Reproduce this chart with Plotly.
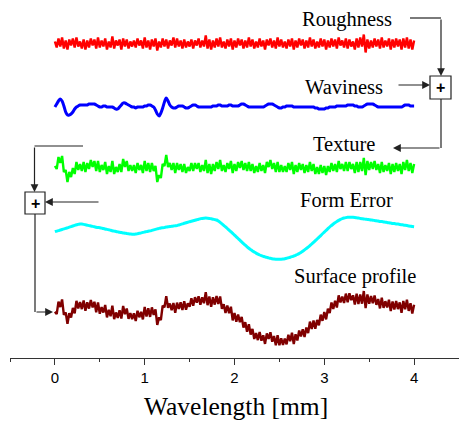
import numpy as np
import plotly.graph_objects as go

# ---------------- data (arbitrary height units) ----------------
wavelength_mm = [round(i * 0.02, 2) for i in range(201)]   # 0 .. 4 mm

roughness = [
    2, -4, 5, -3, 6, -5, 3, -6, 4, -2,
    5, -4, 6, -3, 2, -5, 4, -6, 3, -4,
    5, -2, 4, -5, 6, -4, 3, -3, 5, -6,
    2, -4, 7, -5, 3, -2, 4, -6, 5, -3,
    4, -5, 2, -3, 3, -4, 5, -2, 3, -5,
    6, -4, 3, -6, 4, -3, 5, -7, 2, -4,
    5, -3, 4, -5, 3, -2, 6, -4, 5, -3,
    3, -5, 4, -4, 2, -3, 4, -5, 3, -2,
    5, -4, 3, -3, 8, -5, 4, -6, 3, -4,
    5, -3, 6, -4, 2, -5, 4, -3, 5, -6,
    3, -4, 5, -2, 4, -5, 3, -4, 6, -3,
    4, -5, 2, -4, 5, -3, 3, -6, 4, -2,
    5, -4, 3, -5, 6, -3, 4, -4, 2, -5,
    4, -3, 5, -6, 3, -4, 5, -2, 4, -5,
    3, -4, 6, -3, 4, -5, 2, -4, 5, -3,
    4, -6, 3, -4, 5, -3, 4, -5, 6, -2,
    3, -4, 5, -5, 4, -3, 2, -6, 5, -4,
    6, -3, 9, -9, 4, -5, 3, -4, 5, -3,
    4, -5, 6, -4, 3, -3, 5, -6, 4, -4,
    5, -3, 4, -6, 5, -4, 6, -5, 4, -6,
    3,
]

waviness = [
    0, 3, 6, 8, 6, 1, -5, -8, -8, -7,
    -5, -2, 0, 1, 2, 2, 2, 2, 2, 3,
    3, 3, 3, 2, 1, 0, 0, 1, 1, 0,
    0, 0, 0, -1, -2, -2, 0, 2, 4, 4,
    3, 2, 1, 0, 0, -1, 0, 0, 0, 0,
    1, 1, 2, 2, 1, 0, -3, -7, -9, -6,
    -1, 5, 9, 6, 2, 0, -1, -1, 0, 1,
    1, 1, 0, -1, -1, 0, 1, 2, 2, 1,
    0, 0, 0, 0, 0, 0, 0, 0, 1, 1,
    1, 2, 2, 1, 1, 1, 1, 2, 2, 1,
    1, 1, 1, 2, 3, 3, 2, 1, 0, 0,
    0, 0, 0, 0, 0, 0, 0, 1, 2, 3,
    3, 3, 2, 1, 0, -1, -1, 0, 0, 1,
    1, 1, 1, 0, 0, 0, 0, 0, 0, 0,
    0, 0, 0, 0, 0, -1, -1, -2, -2, -2,
    -2, -1, -1, 0, 0, 0, 0, 1, 1, 1,
    1, 1, 1, 2, 2, 2, 2, 1, 1, 0,
    0, 0, 1, 2, 3, 3, 3, 3, 2, 1,
    0, 0, 0, 0, 0, 0, 0, 0, 0, 0,
    0, 0, 0, 0, 1, 2, 2, 2, 1, 1,
    1,
]

form_error = [
    0.3, 0.9, 1.4, 2.0, 2.5, 3.1, 3.6, 4.2, 4.8, 5.4,
    6.0, 6.6, 7.2, 7.6, 8.0, 7.9, 7.6, 7.2, 6.8, 6.4,
    6.0, 5.6, 5.2, 4.8, 4.5, 4.3, 3.9, 3.5, 3.0, 2.6,
    2.2, 1.8, 1.3, 0.9, 0.5, 0.1, -0.3, -0.6, -0.9, -1.2,
    -1.5, -1.8, -2.0, -2.2, -2.3, -2.1, -1.7, -1.3, -0.9, -0.4,
    0.0, 0.4, 0.8, 1.1, 1.6, 2.1, 2.6, 3.1, 3.6, 4.0,
    4.3, 4.6, 4.9, 5.2, 5.5, 5.7, 6.0, 6.2, 6.4, 7.0,
    7.6, 8.1, 8.7, 9.2, 9.8, 10.3, 10.8, 11.3, 11.8, 12.3,
    12.8, 13.2, 13.6, 13.8, 13.9, 13.8, 13.6, 13.2, 12.8, 12.4,
    12.0, 10.9, 9.6, 8.2, 6.7, 5.1, 3.5, 1.9, 0.3, -1.4,
    -3.1, -4.8, -6.5, -8.2, -9.9, -11.6, -13.2, -14.8, -16.3, -17.6,
    -18.9, -20.0, -21.1, -22.1, -23.0, -23.7, -24.3, -24.9, -25.4, -25.9,
    -26.3, -26.7, -27.0, -27.2, -27.3, -27.3, -27.2, -27.0, -26.7, -26.3,
    -25.8, -25.3, -24.7, -24.0, -23.3, -22.5, -21.5, -20.4, -19.2, -17.9,
    -16.5, -15.1, -13.6, -12.0, -10.4, -8.7, -7.0, -5.3, -3.6, -1.8,
    -0.1, 1.6, 3.3, 5.0, 6.5, 8.0, 9.3, 10.5, 11.6, 12.6,
    13.4, 14.0, 14.4, 14.7, 14.8, 14.8, 14.7, 14.5, 14.2, 13.9,
    13.6, 13.3, 13.0, 12.8, 12.6, 12.3, 12.0, 11.8, 11.5, 11.2,
    10.9, 10.6, 10.4, 10.1, 9.8, 9.5, 9.2, 8.9, 8.6, 8.4,
    8.1, 7.9, 7.6, 7.3, 7.0, 6.7, 6.4, 6.1, 5.8, 5.5,
    5.3,
]

x_ticks = [0, 1, 2, 3, 4]
labels = ["Roughness", "Waviness", "Texture", "Form Error", "Surface profile"]
x_title = "Wavelength [mm]"

# ---------------- layout constants (positions only) ----------------
W, H = 459, 423
ML, MR, MT, MB = 10, 0, 0, 65
PH = H - MT - MB                      # plot height in px (y data == px above axis)
X0, X1 = -0.5, 4.5
PXU = (W - ML - MR) / (X1 - X0)


def xd(px):
    return X0 + (px - ML) / PXU


def yd(py):
    return PH - (py - MT)


def ypaper(py):
    return (PH - (py - MT)) / PH


off_r, off_w, off_t, off_f, off_p = yd(43.5), yd(107), yd(168), yd(232), yd(314)

r = np.array(roughness, float)
w = np.array(waviness, float)
f = np.array(form_error, float)
texture = w + r
profile = f + w + r

NW = 2.4
fig = go.Figure()
fig.add_trace(go.Scatter(x=wavelength_mm, y=off_r + r, mode="lines",
                         line=dict(color="#FF0000", width=NW), hoverinfo="skip"))
fig.add_trace(go.Scatter(x=wavelength_mm, y=off_w + w, mode="lines",
                         line=dict(color="#0000FF", width=3, shape="spline"), hoverinfo="skip"))
fig.add_trace(go.Scatter(x=wavelength_mm, y=off_t + texture, mode="lines",
                         line=dict(color="#00FF00", width=NW), hoverinfo="skip"))
fig.add_trace(go.Scatter(x=wavelength_mm, y=off_f + f, mode="lines",
                         line=dict(color="#00FFFF", width=3, shape="spline"), hoverinfo="skip"))
fig.add_trace(go.Scatter(x=wavelength_mm, y=off_p + profile, mode="lines",
                         line=dict(color="#800000", width=NW), hoverinfo="skip"))

serif = "Liberation Serif, Times New Roman, serif"
ann = []
label_pos = [(347, 19), (344, 87), (344, 144), (346, 200), (355, 276)]
for txt, (px, py) in zip(labels, label_pos):
    ann.append(dict(x=xd(px), y=yd(py), xref="x", yref="y", text=txt, showarrow=False,
                    font=dict(family=serif, size=20.5, color="black"),
                    xanchor="center", yanchor="middle"))

shapes = []
LC = "#222222"


def seg(p0, p1):
    shapes.append(dict(type="line", xref="x", yref="y",
                       x0=xd(p0[0]), y0=yd(p0[1]), x1=xd(p1[0]), y1=yd(p1[1]),
                       line=dict(color=LC, width=1.2)))


def arrow(tail, head):
    ann.append(dict(x=xd(head[0]), y=yd(head[1]), ax=xd(tail[0]), ay=yd(tail[1]),
                    xref="x", yref="y", axref="x", ayref="y", text="",
                    showarrow=True, arrowhead=2, arrowsize=1.3, arrowwidth=1.2,
                    arrowcolor=LC, standoff=0))


def box(x0, y0, x1, y1):
    shapes.append(dict(type="rect", xref="x", yref="y",
                       x0=xd(x0), y0=yd(y0), x1=xd(x1), y1=yd(y1),
                       line=dict(color=LC, width=1.2), fillcolor="white"))
    ann.append(dict(x=xd((x0 + x1) / 2), y=yd((y0 + y1) / 2), xref="x", yref="y",
                    text="<b>+</b>", showarrow=False,
                    font=dict(family="Liberation Sans, Arial", size=16, color="black"),
                    xanchor="center", yanchor="middle"))


# right summing block
box(430, 76, 451, 99)
seg((410, 18), (441, 18))
arrow((441, 18), (441, 76))
arrow((397, 85), (430, 85))
seg((441, 99), (441, 148))
arrow((441, 148), (393, 148))

# left summing block
box(25, 192, 45, 214)
seg((83, 146), (34.5, 146))
arrow((34.5, 146), (34.5, 192))
arrow((100, 202), (45, 202))
seg((35, 214), (35, 312))
arrow((35, 312), (53, 312))

ann.append(dict(x=xd(236), y=ypaper(407), xref="x", yref="paper", text=x_title,
                showarrow=False, font=dict(family=serif, size=25.5, color="black"),
                xanchor="center", yanchor="middle"))

fig.update_layout(
    width=W, height=H,
    margin=dict(l=ML, r=MR, t=MT, b=MB),
    paper_bgcolor="white", plot_bgcolor="white",
    showlegend=False,
    annotations=ann, shapes=shapes,
    xaxis=dict(range=[X0, X1], tickvals=x_ticks, ticks="outside", ticklen=6,
               tickwidth=1, tickcolor="#333333",
               minor=dict(dtick=0.5, ticks="outside", ticklen=3, tickcolor="#333333"),
               showline=True, linecolor="#333333", linewidth=1,
               showgrid=False, zeroline=False,
               tickfont=dict(family="Liberation Sans, Arial", size=15, color="black")),
    yaxis=dict(range=[0, PH], visible=False, showgrid=False, zeroline=False),
)

fig.write_html("out.html", config={"displayModeBar": False})

# remove the browser's default page margin so the figure sits at (0, 0)
with open("out.html", "r", encoding="utf-8") as fh:
    html = fh.read()
html = html.replace("<body>", '<body style="margin:0;padding:0;overflow:hidden">', 1)
with open("out.html", "w", encoding="utf-8") as fh:
    fh.write(html)
